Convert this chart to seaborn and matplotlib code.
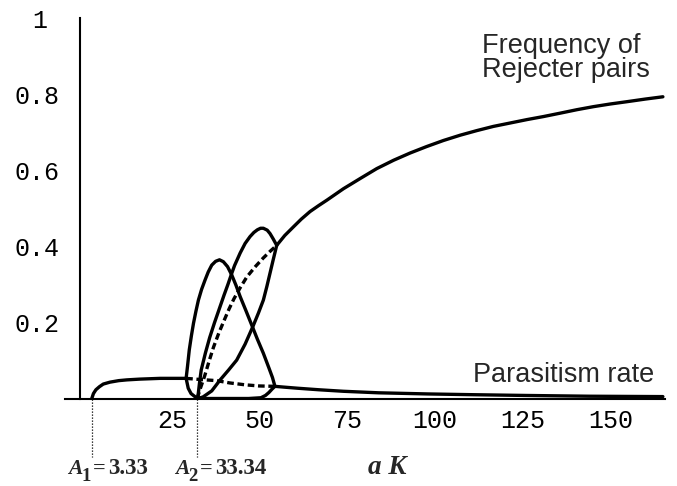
import numpy as np
import pandas as pd
import matplotlib
matplotlib.use("Agg")
import matplotlib.pyplot as plt
import matplotlib.transforms as mtransforms
import seaborn as sns

# bifurcation thresholds
A1 = 3.33
A2 = 33.34

# parasitism rate: stable low branch, unstable (dashed), stable high branch
par_low_x = [3.33, 3.8, 4.5, 5.5, 6.6, 8.5, 11, 13.3, 17, 22.8, 27, 30.2]
par_low_y = [0.0, 0.013, 0.023, 0.031, 0.038, 0.043, 0.047, 0.049, 0.051, 0.053, 0.053, 0.053]
par_unst_x = [30.2, 34.2, 38.9, 42.6, 47, 51, 55.5]
par_unst_y = [0.053, 0.050, 0.047, 0.041, 0.036, 0.033, 0.032]
par_high_x = [55.5, 58, 62, 68, 75, 85, 99, 112, 127, 145, 166]
par_high_y = [0.032, 0.030, 0.027, 0.023, 0.019, 0.015, 0.012, 0.010, 0.008, 0.006, 0.005]

# frequency of rejecter pairs: unstable (dashed) and stable branch
rej_unst_x = [33.34, 34.2, 35.5, 36.8, 38, 39.5, 41, 42.4, 43.8, 45.5, 47.5, 50, 52.2, 54.2, 56]
rej_unst_y = [0.0, 0.025, 0.06, 0.1, 0.135, 0.172, 0.205, 0.235, 0.262, 0.29, 0.32, 0.348, 0.37, 0.388, 0.403]
rej_stab_x = [56, 58.3, 60.8, 63, 65.5, 68, 70.3, 75, 79.8, 84.5, 89.3, 94, 98.7, 103.5, 108.3,
              113, 117.7, 122.5, 127.3, 132, 136.8, 141.5, 146.2, 151, 155.7, 161, 166]
rej_stab_y = [0.403, 0.429, 0.452, 0.472, 0.492, 0.508, 0.522, 0.552, 0.579, 0.605, 0.627, 0.646, 0.663,
              0.679, 0.693, 0.705, 0.716, 0.725, 0.734, 0.742, 0.751, 0.76, 0.768, 0.775, 0.781, 0.788, 0.794]

# limit cycle max/min of parasitism rate
cyc1_max_x = [30.2, 30.6, 31.1, 31.7, 32.3, 33.0, 33.7, 34.6, 35.6, 36.5, 37.5, 38.6, 39.7, 40.8,
              42, 43.2, 44.4, 45.6, 47.2, 48.9, 50.5, 52.2, 53.8, 54.8, 55.5]
cyc1_max_y = [0.053, 0.085, 0.128, 0.165, 0.198, 0.23, 0.259, 0.287, 0.312, 0.333, 0.351, 0.361, 0.365,
              0.36, 0.347, 0.325, 0.298, 0.268, 0.232, 0.193, 0.156, 0.119, 0.08, 0.055, 0.032]
cyc1_min_x = [30.2, 30.8, 31.6, 32.7, 33.6, 36, 42, 48, 51.5, 52.8, 53.8, 54.7, 55.5]
cyc1_min_y = [0.053, 0.027, 0.013, 0.005, 0.001, 0.0, 0.0, 0.0, 0.002, 0.008, 0.016, 0.025, 0.032]

# limit cycle max/min of rejecter pair frequency
cyc2_max_x = [33.5, 34.0, 34.5, 35.7, 36.9, 38.3, 39.8, 41, 42.1, 43.1, 44.0, 45.6, 47, 48.4,
              49.5, 50.5, 51.4, 52.2, 53.3, 54.1, 55, 56]
cyc2_max_y = [0.0, 0.04, 0.075, 0.12, 0.16, 0.2, 0.24, 0.272, 0.3, 0.327, 0.35, 0.383, 0.408, 0.426,
              0.437, 0.444, 0.448, 0.448, 0.443, 0.434, 0.42, 0.403]
cyc2_min_x = [33.5, 35, 37.5, 39.9, 42.3, 44.6, 47, 49.2, 50.8, 52.2, 53.2, 54.1, 55, 56]
cyc2_min_y = [0.0, 0.004, 0.02, 0.049, 0.075, 0.101, 0.143, 0.189, 0.225, 0.259, 0.295, 0.33, 0.365, 0.403]

x_ticks = [25, 50, 75, 100, 125, 150]
y_ticks = [0.2, 0.4, 0.6, 0.8, 1.0]
y_ticklabels = ["0.2", "0.4", "0.6", "0.8", "1"]

sns.set_theme(style="white", rc={
    'axes.edgecolor': 'black',
    'axes.linewidth': 1.5,
    'xtick.color': 'black',
    'ytick.color': 'black',
})
plt.rcParams['font.family'] = ['Liberation Sans', 'DejaVu Sans']

W, H = 677, 486
fig = plt.figure(figsize=(W / 100, H / 100), dpi=100)
ax = fig.add_axes([65 / W, (H - 398.5) / H, 600 / W, 380 / H])

curves = [
    (par_low_x, par_low_y, '-'),
    (par_unst_x, par_unst_y, '--'),
    (par_high_x, par_high_y, '-'),
    (rej_unst_x, rej_unst_y, '--'),
    (rej_stab_x, rej_stab_y, '-'),
    (cyc1_max_x, cyc1_max_y, '-'),
    (cyc1_min_x, cyc1_min_y, '-'),
    (cyc2_max_x, cyc2_max_y, '-'),
    (cyc2_min_x, cyc2_min_y, '-'),
]
for xs, ys, ls in curves:
    df = pd.DataFrame({'aK': xs, 'value': ys})
    line_kw = dict(color='black', linewidth=2.4, solid_capstyle='round', solid_joinstyle='round')
    if ls == '--':
        line_kw.update(dashes=(2.0, 1.1), dash_capstyle='butt')
    sns.lineplot(data=df, x='aK', y='value', sort=False, estimator=None, ax=ax, **line_kw)

# dotted guides for the thresholds
for a in (A1, A2):
    ax.plot([a, a], [0, -0.153], color='black', linewidth=0.9, dashes=(1.0, 1.4), clip_on=False)

ax.set_xlim(-4.3, 166.6)
ax.set_ylim(0, 1.0)
ax.spines['top'].set_visible(False)
ax.spines['right'].set_visible(False)
ax.spines['left'].set_position(('data', 0))
ax.set_xlabel('')
ax.set_ylabel('')

ax.set_xticks(x_ticks)
ax.set_xticklabels([str(t) for t in x_ticks])
ax.set_yticks(y_ticks)
ax.set_yticklabels(y_ticklabels)
ax.tick_params(axis='both', direction='inout', length=5, width=1.3, labelsize=18)
ax.tick_params(axis='x', pad=5)
ax.tick_params(axis='y', pad=12)
for lab in ax.get_xticklabels() + ax.get_yticklabels():
    lab.set_fontfamily(['Liberation Mono', 'DejaVu Sans Mono'])
    lab.set_clip_on(False)
for lab in ax.get_xticklabels():
    lab.set_transform(lab.get_transform() + mtransforms.ScaledTranslation(0.04, 0, fig.dpi_scale_trans))
top_lab = ax.get_yticklabels()[-1]
top_lab.set_transform(top_lab.get_transform() + mtransforms.ScaledTranslation(-0.13, 0, fig.dpi_scale_trans))

# curve labels
ax.text(482 / W, 1 - 53 / H, 'Frequency of', transform=fig.transFigure, fontsize=19.5, va='baseline', ha='left')
ax.text(482 / W, 1 - 77 / H, 'Rejecter pairs', transform=fig.transFigure, fontsize=19.5, va='baseline', ha='left')
ax.text(473 / W, 1 - 381.5 / H, 'Parasitism rate', transform=fig.transFigure, fontsize=19.5, va='baseline', ha='left')

# threshold annotations under the axis
serif = ['Liberation Serif', 'DejaVu Serif']
def thr_label(x0, sub, val):
    fig.text(x0 / W, 1 - 474 / H, 'A', family=serif, weight='bold', style='italic', fontsize=15.5, va='baseline')
    fig.text((x0 + 13.5) / W, 1 - 480.5 / H, sub, family=serif, weight='bold', fontsize=13.5, va='baseline')
    fig.text((x0 + 25) / W, 1 - 474 / H, '=', family=serif, weight='bold', fontsize=16, va='baseline')
    fig.text((x0 + 40) / W, 1 - 474 / H, val, family=serif, weight='bold', fontsize=16.5, va='baseline')

thr_label(68, '1', f'{A1:.2f}')
thr_label(175, '2', f'{A2:.2f}')
fig.text(368 / W, 1 - 474 / H, 'a K', family=serif, weight='bold', style='italic', fontsize=19.5, va='baseline')

fig.savefig('out.png', dpi=100)
